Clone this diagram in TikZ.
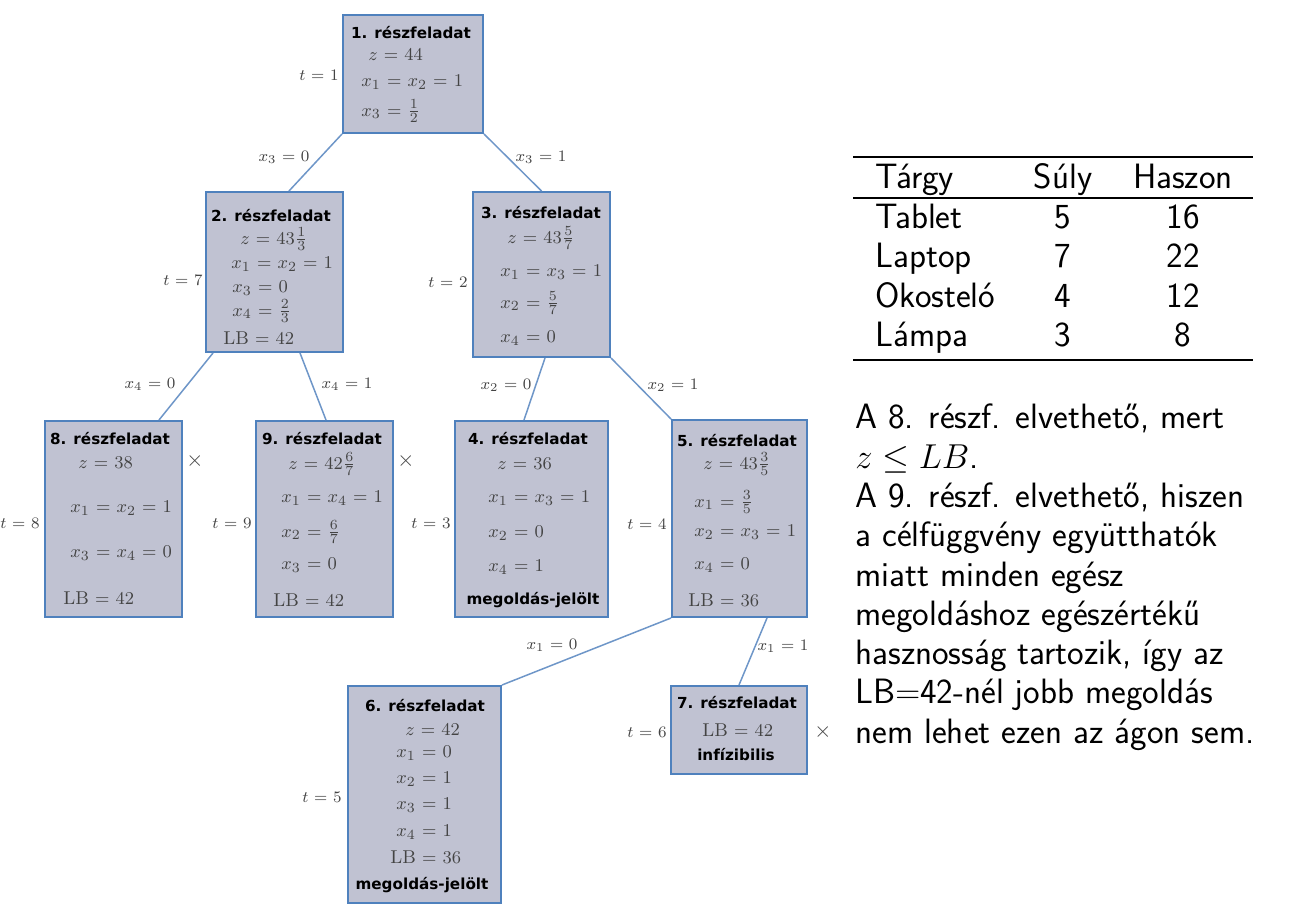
\documentclass[tikz,border=0pt]{standalone}
\usepackage{amsmath}
\usepackage{amssymb}
\usepackage{fontspec}
\newfontfamily\cimbetu{DejaVu Sans}
\newcommand\szeles{\thickmuskip=6mu\relax}
\usetikzlibrary{fit}

\definecolor{dobozkek}{RGB}{79,129,189}
\definecolor{dobozszurke}{RGB}{192,194,210}
\definecolor{elkek}{RGB}{110,150,200}
\definecolor{betuszurke}{RGB}{68,68,68}

\tikzset{
  doboz/.style={draw=dobozkek, line width=1pt, fill=dobozszurke, inner sep=0pt},
  cim/.style={font=\cimbetu\bfseries\fontsize{7.6}{9}\selectfont, inner sep=0pt},
  sor/.style={font=\fontsize{9.3}{11}\selectfont\szeles, text=betuszurke, inner sep=0pt, anchor=west},
  cimke/.style={font=\fontsize{8.5}{10}\selectfont\szeles, text=betuszurke, inner sep=0pt},
  el/.style={draw=elkek, line width=0.75pt},
  kizart/.style={font=\fontsize{11}{12}\selectfont, text=betuszurke, inner sep=0pt},
  jobb/.style={font=\sffamily\fontsize{17.6}{20}\selectfont, inner sep=0pt}
}

\begin{document}
\begin{tikzpicture}[x=0.5pt, y=-0.5pt]
\useasboundingbox (0,0) rectangle (1299,924);

% reszfeladatok
\node[doboz, fit={(343,15) (483,133)}] (r1) {};
\node[doboz, fit={(206,192) (343,352)}] (r2) {};
\node[doboz, fit={(473,192) (610,357)}] (r3) {};
\node[doboz, fit={(455,421) (608,617)}] (r4) {};
\node[doboz, fit={(672,420) (807,617)}] (r5) {};
\node[doboz, fit={(348,686) (501,903)}] (r6) {};
\node[doboz, fit={(671,686) (807,774)}] (r7) {};
\node[doboz, fit={(45,421) (182,617)}] (r8) {};
\node[doboz, fit={(256,421) (393,617)}] (r9) {};

% agak
\draw[el] (r1.south west) -- ([xshift=7.25pt]r2.north);
\draw[el] (r1.south east) -- (r3.north);
\draw[el] ([xshift=4pt]r2.south west) -- ([xshift=22.75pt]r8.north);
\draw[el] ([xshift=12.75pt]r2.south) -- ([xshift=0.75pt]r9.north);
\draw[el] ([xshift=1.75pt]r3.south) -- ([xshift=-3.75pt]r4.north);
\draw[el] (r3.south east) -- (r5.north west);
\draw[el] (r5.south west) -- (r6.north east);
\draw[el] ([xshift=13.75pt]r5.south) -- (r7.north);

% 1.
\node[cim] (r1c) at (411,33) {1. részfeladat};
\foreach \x/\y/\s [count=\i] in {368/55/{$z = 44$}, 361/82/{$x_1 = x_2 = 1$}, 361/111/{$x_3 = \frac{1}{2}$}}
  \node[sor] (r1s\i) at (\x,\y) {\s};
% 2.
\node[cim] (r2c) at (271,216) {2. részfeladat};
\foreach \x/\y/\s [count=\i] in {240/239/{$z = 43\frac{1}{3}$}, 231/264/{$x_1 = x_2 = 1$}, 232/288/{$x_3 = 0$}, 232/311/{$x_4 = \frac{2}{3}$}, 223/338/{$\mathrm{LB} = 42$}}
  \node[sor] (r2s\i) at (\x,\y) {\s};
% 3.
\node[cim] (r3c) at (541,213) {3. részfeladat};
\foreach \x/\y/\s [count=\i] in {507/238/{$z = 43\frac{5}{7}$}, 500/272/{$x_1 = x_3 = 1$}, 500/303/{$x_2 = \frac{5}{7}$}, 500/338/{$x_4 = 0$}}
  \node[sor] (r3s\i) at (\x,\y) {\s};
% 8.
\node[cim] (r8c) at (110,439) {8. részfeladat};
\foreach \x/\y/\s [count=\i] in {78/463/{$z = 38$}, 70/508/{$x_1 = x_2 = 1$}, 70/553/{$x_3 = x_4 = 0$}, 63/598/{$\mathrm{LB} = 42$}}
  \node[sor] (r8s\i) at (\x,\y) {\s};
% 9.
\node[cim] (r9c) at (322,439) {9. részfeladat};
\foreach \x/\y/\s [count=\i] in {288/464/{$z = 42\frac{6}{7}$}, 281/498/{$x_1 = x_4 = 1$}, 281/532/{$x_2 = \frac{6}{7}$}, 281/565/{$x_3 = 0$}, 273/600/{$\mathrm{LB} = 42$}}
  \node[sor] (r9s\i) at (\x,\y) {\s};
% 4.
\node[cim] (r4c) at (528,439) {4. részfeladat};
\foreach \x/\y/\s [count=\i] in {497/464/{$z = 36$}, 488/498/{$x_1 = x_3 = 1$}, 488/533/{$x_2 = 0$}, 488/567/{$x_4 = 1$}}
  \node[sor] (r4s\i) at (\x,\y) {\s};
\node[cim] (r4m) at (533,600) {megoldás-jelölt};
% 5.
\node[cim] (r5c) at (737,441) {5. részfeladat};
\foreach \x/\y/\s [count=\i] in {703/464/{$z = 43\frac{3}{5}$}, 694/502/{$x_1 = \frac{3}{5}$}, 694/532/{$x_2 = x_3 = 1$}, 694/565/{$x_4 = 0$}, 688/600/{$\mathrm{LB} = 36$}}
  \node[sor] (r5s\i) at (\x,\y) {\s};
% 6.
\node[cim] (r6c) at (425,706) {6. részfeladat};
\foreach \x/\y/\s [count=\i] in {405/730/{$z = 42$}, 396/753/{$x_1 = 0$}, 396/779/{$x_2 = 1$}, 396/805/{$x_3 = 1$}, 396/832/{$x_4 = 1$}, 390/857/{$\mathrm{LB} = 36$}}
  \node[sor] (r6s\i) at (\x,\y) {\s};
\node[cim] (r6m) at (422,885) {megoldás-jelölt};
% 7.
\node[cim] (r7c) at (737,703) {7. részfeladat};
\node[sor] (r7s1) at (702,730) {$\mathrm{LB} = 42$};
\node[cim] (r7m) at (736,755) {infízibilis};

% t ertekek
\foreach \x/\y/\n in {319/75/1, 183/280/7, 448/282/2, 20/523/8, 232/523/9, 431/523/3, 647/524/4, 322/797/5, 647/732/6}
  \node[cimke] (t\n) at (\x,\y) {$t = \n$};
% ag feliratok
\foreach \x/\y/\v/\e [count=\i] in {284/157/3/0, 541/157/3/1, 150/384/4/0, 347/384/4/1, 506/385/2/0, 673/385/2/1, 552/645/1/0, 783/646/1/1}
  \node[cimke] (ag\i) at (\x,\y) {$x_{\v} = \e$};
% elvetett agak
\foreach \x/\y [count=\i] in {195/461, 406/461, 823/732}
  \node[kizart] (kiz\i) at (\x,\y) {$\times$};

% tablazat
\draw[line width=1pt] (853,157) -- (1253,157);
\draw[line width=0.6pt] (853,198) -- (1253,198);
\draw[line width=1pt] (853,360) -- (1253,360);
\node[jobb, anchor=base west] (fejT) at (875,189) {Tárgy};
\node[jobb, anchor=base] (fejS) at (1063,189) {Súly};
\node[jobb, anchor=base] (fejH) at (1183,189) {Haszon};
\foreach \t/\s/\h [count=\i] in {Tablet/5/16, Laptop/7/22, Okosteló/4/12, Lámpa/3/8}{
  \node[jobb, anchor=base west] (targy\i) at (875,189+39.5*\i) {\t};
  \node[jobb, anchor=base] (suly\i) at (1063,189+39.5*\i) {\s};
  \node[jobb, anchor=base] (haszon\i) at (1183,189+39.5*\i) {\h};
}

% magyarazat
\foreach \s [count=\i] in {{A 8. részf. elvethető, mert}, {$z \leq LB$.}, {A 9. részf. elvethető, hiszen}, {a célfüggvény együtthatók}, {miatt minden egész}, {megoldáshoz egészértékű}, {hasznosság tartozik, így az}, {LB$=$42-nél jobb megoldás}, {nem lehet ezen az ágon sem.}}
  \node[jobb, anchor=base west] (magy\i) at (855,389.75+39.25*\i) {\s};
\end{tikzpicture}
\end{document}
